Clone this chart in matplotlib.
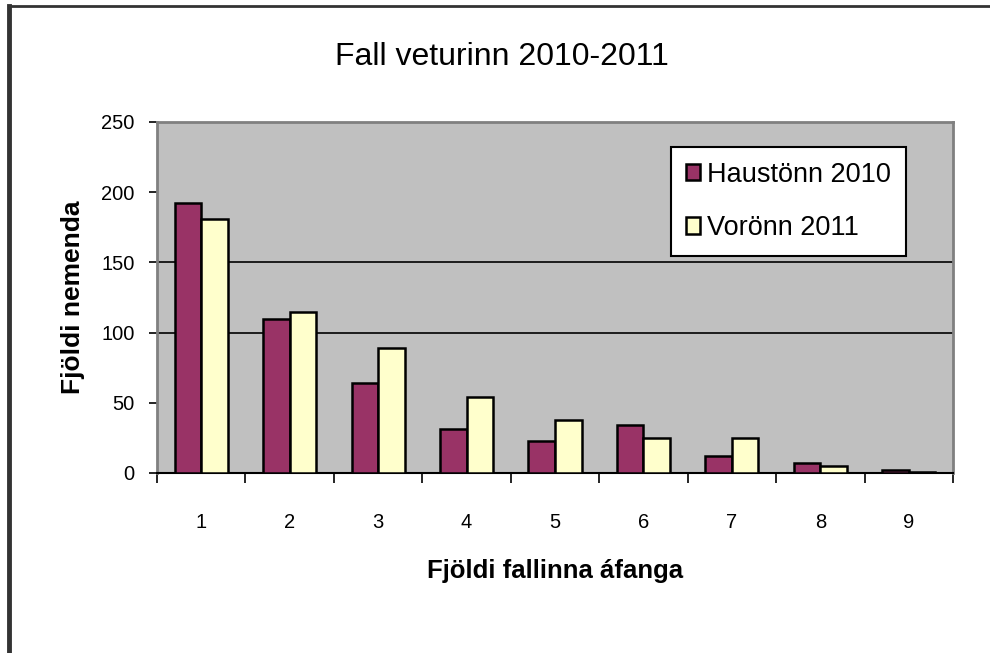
import matplotlib.pyplot as plt
from matplotlib.lines import Line2D
import numpy as np

plt.rcParams['font.family'] = ['Liberation Sans', 'DejaVu Sans']

# Gögn lesin af myndinni
flokkar = ['1', '2', '3', '4', '5', '6', '7', '8', '9']
haust_2010 = [192, 110, 64, 31, 23, 34, 12, 7, 2]
vor_2011 = [181, 115, 89, 54, 38, 25, 25, 5, 1]
y_merki = [0, 50, 100, 150, 200, 250]
hnitalinur = [100, 150]

fig = plt.figure(figsize=(9.9, 6.53), dpi=100)
ax = fig.add_axes([157 / 990, 1 - 473 / 653, 796 / 990, 351 / 653])

# Rammi utan um myndina (vinstri og efri lína)
fig.add_artist(Line2D([9 / 990, 9 / 990], [0, 1 - 6 / 653], transform=fig.transFigure,
                      color='#333333', lw=3.5))
fig.add_artist(Line2D([9 / 990, 1], [1 - 6 / 653, 1 - 6 / 653], transform=fig.transFigure,
                      color='#333333', lw=2))

x = np.arange(len(flokkar))
w = 0.3
ax.set_facecolor('#C0C0C0')
for g in hnitalinur:
    ax.axhline(g, color='black', lw=1.2, zorder=1)

ax.bar(x - w / 2, haust_2010, w, color='#993366', edgecolor='black', lw=1.8,
       label='Haustönn 2010', zorder=3)
ax.bar(x + w / 2, vor_2011, w, color='#FFFFCC', edgecolor='black', lw=1.8,
       label='Vorönn 2011', zorder=3)

ax.set_xlim(-0.5, len(flokkar) - 0.5)
ax.set_ylim(0, 250)
ax.set_yticks(y_merki)
ax.tick_params(axis='y', direction='out', length=6, width=1.2, pad=10, labelsize=14.5)

# Flokkamerki í miðju, strik á mörkum flokka
ax.set_xticks(x)
ax.set_xticklabels(flokkar)
ax.tick_params(axis='x', which='major', length=0, pad=29, labelsize=14.5)
ax.set_xticks(np.arange(-0.5, len(flokkar), 1), minor=True)
ax.tick_params(axis='x', which='minor', direction='out', length=7, width=1.2)

for s in ['top', 'right', 'left']:
    ax.spines[s].set_color('#808080')
    ax.spines[s].set_linewidth(2)
ax.spines['bottom'].set_color('black')
ax.spines['bottom'].set_linewidth(1.5)

ax.set_xlabel('Fjöldi fallinna áfanga', fontsize=18.5, fontweight='bold', labelpad=19)
ax.set_ylabel('Fjöldi nemenda', fontsize=19, fontweight='bold', labelpad=12)
fig.text(502 / 990, 1 - 57 / 653, 'Fall veturinn 2010-2011', ha='center', va='center', fontsize=23)

leg = ax.legend(loc='upper right', bbox_to_anchor=(906 / 990, 1 - 147 / 653),
                bbox_transform=fig.transFigure, fontsize=19.5, frameon=True,
                fancybox=False, edgecolor='black', framealpha=1,
                handlelength=0.55, handleheight=0.55, handletextpad=0.25,
                labelspacing=1.0, borderpad=0.55, borderaxespad=0)
leg.get_frame().set_linewidth(1.5)
leg.set_zorder(5)

fig.savefig('out.png', dpi=100)
